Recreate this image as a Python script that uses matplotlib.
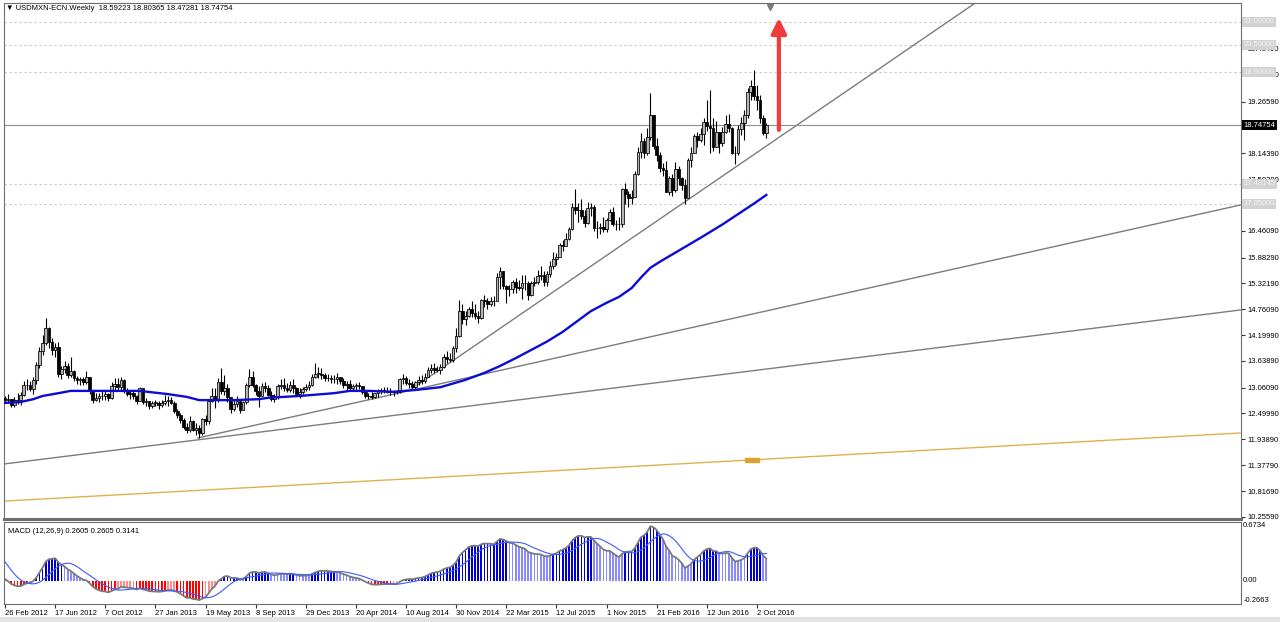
import numpy as np
import pandas as pd
import matplotlib
matplotlib.use('Agg')
import matplotlib.pyplot as plt
from matplotlib.transforms import blended_transform_factory
from matplotlib.patches import Rectangle

plt.rcParams['font.family'] = ['Liberation Sans', 'DejaVu Sans']

# weekly closes before the first visible bar (warm-up for the MACD only)
pre_closes = [11.63, 11.64, 11.83, 11.84, 11.83, 11.70, 11.57, 11.73, 11.61, 11.76,
              12.10, 12.30, 12.26, 12.45, 12.48, 12.65, 12.55, 13.55, 13.89, 13.55,
              13.28, 13.46, 13.30, 13.63, 13.60, 13.85, 14.10, 13.60, 13.68, 13.88,
              13.95, 13.95, 13.46, 13.70, 13.33, 13.05, 12.80, 12.85, 12.88, 12.83]

# visible weekly bars, 26 Feb 2012 .. 23 Oct 2016
closes = [12.79, 12.81, 12.69, 12.79, 12.80, 12.91, 13.12, 13.11, 13.03, 13.22,
          13.55, 13.85, 14.03, 14.35, 14.05, 13.88, 13.95, 13.36, 13.46, 13.53,
          13.34, 13.43, 13.27, 13.22, 13.24, 13.18, 13.29, 12.98, 12.80, 12.84,
          12.88, 12.89, 12.93, 12.83, 13.10, 13.15, 13.07, 13.23, 13.00, 12.93,
          12.95, 12.87, 12.78, 13.05, 12.75, 12.76, 12.67, 12.73, 12.73, 12.69,
          12.73, 12.77, 12.80, 12.73, 12.56, 12.46, 12.36, 12.21, 12.15, 12.33,
          12.15, 12.19, 12.08, 12.38, 12.33, 12.78, 12.89, 12.80, 13.18, 12.99,
          13.05, 12.85, 12.59, 12.71, 12.76, 12.58, 12.74, 13.12, 13.30, 13.12,
          12.99, 12.87, 13.10, 13.06, 12.91, 12.82, 12.86, 13.09, 13.11, 13.05,
          13.02, 13.11, 13.05, 12.92, 12.97, 13.03, 13.08, 13.11, 13.29, 13.36,
          13.36, 13.34, 13.27, 13.27, 13.24, 13.25, 13.29, 13.20, 13.12, 13.15,
          13.06, 13.10, 13.12, 13.09, 12.96, 12.89, 12.87, 12.85, 12.94, 12.98,
          13.00, 12.99, 12.96, 12.98, 12.96, 12.96, 13.25, 13.26, 13.16, 13.15,
          13.08, 13.19, 13.23, 13.20, 13.30, 13.44, 13.49, 13.45, 13.44, 13.51,
          13.73, 13.69, 13.67, 13.91, 14.17, 14.72, 14.55, 14.62, 14.76, 14.67,
          14.62, 14.58, 14.97, 14.93, 14.87, 14.95, 14.94, 15.45, 15.59, 15.26,
          15.19, 15.19, 15.36, 15.24, 15.23, 15.34, 15.33, 15.08, 15.32, 15.36,
          15.48, 15.50, 15.35, 15.52, 15.69, 15.85, 15.89, 16.15, 16.13, 16.28,
          16.50, 16.97, 16.91, 16.92, 16.78, 16.63, 16.96, 16.97, 16.52, 16.53,
          16.54, 16.50, 16.69, 16.88, 16.61, 16.60, 16.62, 17.37, 17.25, 17.18,
          17.19, 17.70, 18.17, 18.42, 18.14, 18.49, 18.98, 18.30, 18.10, 17.83,
          17.78, 17.31, 17.60, 17.34, 17.80, 17.61, 17.45, 17.17, 17.99, 18.16,
          18.51, 18.43, 18.56, 18.83, 18.74, 18.70, 18.28, 18.60, 18.37, 18.60,
          18.77, 18.70, 18.15, 18.15, 18.68, 18.80, 18.98, 19.47, 19.60, 19.39,
          19.30, 18.90, 18.59223, 18.74754]

highs = [12.87, 12.92, 12.82, 12.86, 12.95, 12.97, 13.20, 13.24, 13.21, 13.30,
         13.62, 13.95, 14.20, 14.58, 14.38, 14.13, 14.03, 14.06, 13.52, 13.64,
         13.60, 13.72, 13.45, 13.32, 13.30, 13.30, 13.42, 13.30, 13.00, 12.95,
         12.94, 12.98, 12.98, 12.95, 13.18, 13.28, 13.28, 13.30, 13.25, 13.05,
         13.00, 13.00, 12.90, 13.08, 13.02, 12.84, 12.78, 12.76, 12.80, 12.77,
         12.79, 12.90, 12.89, 12.85, 12.76, 12.60, 12.50, 12.40, 12.30, 12.45,
         12.36, 12.30, 12.25, 12.40, 12.47, 12.80, 13.05, 13.06, 13.28, 13.49,
         13.33, 13.15, 12.85, 12.79, 12.89, 12.77, 12.77, 13.16, 13.46, 13.42,
         13.14, 13.09, 13.17, 13.19, 13.12, 12.98, 12.93, 13.13, 13.25, 13.26,
         13.16, 13.20, 13.24, 13.07, 13.05, 13.07, 13.14, 13.21, 13.36, 13.60,
         13.50, 13.49, 13.37, 13.35, 13.33, 13.34, 13.38, 13.30, 13.28, 13.20,
         13.22, 13.15, 13.17, 13.18, 13.10, 13.00, 12.95, 12.96, 12.95, 13.04,
         13.06, 13.07, 13.08, 13.05, 13.02, 13.02, 13.28, 13.36, 13.32, 13.24,
         13.20, 13.20, 13.32, 13.33, 13.37, 13.50, 13.57, 13.59, 13.52, 13.57,
         13.79, 13.86, 13.82, 13.96, 14.36, 14.96, 14.88, 14.73, 14.80, 14.93,
         14.88, 14.72, 14.98, 15.06, 15.00, 15.02, 15.05, 15.55, 15.68, 15.60,
         15.28, 15.29, 15.40, 15.44, 15.39, 15.50, 15.50, 15.38, 15.38, 15.46,
         15.62, 15.69, 15.60, 15.58, 15.80, 16.00, 15.97, 16.19, 16.26, 16.41,
         16.55, 17.07, 17.37, 17.06, 17.15, 16.91, 17.08, 17.07, 17.02, 16.67,
         16.64, 16.76, 16.73, 16.93, 16.98, 16.70, 16.76, 17.40, 17.50, 17.32,
         17.35, 17.75, 18.27, 18.58, 18.47, 18.70, 19.44, 18.98, 18.47, 18.18,
         17.93, 17.98, 17.64, 17.70, 17.95, 17.87, 17.63, 17.58, 18.05, 18.27,
         18.57, 18.60, 18.69, 18.90, 19.30, 19.52, 18.90, 18.85, 18.55, 18.72,
         18.97, 19.00, 18.72, 18.30, 18.76, 18.93, 19.08, 19.56, 19.74, 19.94,
         19.62, 19.40, 18.98, 18.80365]

lows = [12.72, 12.72, 12.63, 12.63, 12.71, 12.69, 12.88, 13.02, 12.98, 12.93,
        13.14, 13.48, 13.77, 13.98, 13.93, 13.77, 13.73, 13.30, 13.25, 13.38,
        13.26, 13.30, 13.20, 13.14, 13.12, 13.11, 13.13, 12.92, 12.73, 12.76,
        12.74, 12.80, 12.80, 12.76, 12.82, 13.00, 13.02, 13.02, 12.95, 12.88,
        12.82, 12.82, 12.70, 12.76, 12.71, 12.66, 12.59, 12.62, 12.66, 12.60,
        12.65, 12.69, 12.67, 12.71, 12.52, 12.41, 12.30, 12.17, 12.07, 12.10,
        12.12, 12.04, 11.97, 12.03, 12.26, 12.28, 12.75, 12.62, 12.75, 12.92,
        12.90, 12.74, 12.52, 12.56, 12.65, 12.50, 12.57, 12.70, 13.08, 13.07,
        12.91, 12.64, 12.92, 12.96, 12.87, 12.76, 12.75, 12.82, 13.04, 12.98,
        12.96, 12.96, 12.95, 12.88, 12.83, 12.93, 12.99, 13.00, 13.09, 13.27,
        13.28, 13.25, 13.21, 13.21, 13.17, 13.17, 13.15, 13.14, 13.05, 12.98,
        12.99, 13.00, 13.02, 13.03, 12.93, 12.84, 12.81, 12.82, 12.83, 12.85,
        12.93, 12.94, 12.94, 12.90, 12.89, 12.92, 12.94, 13.15, 13.12, 13.06,
        13.05, 13.03, 13.12, 13.15, 13.17, 13.29, 13.37, 13.38, 13.40, 13.35,
        13.49, 13.60, 13.62, 13.61, 13.84, 14.15, 14.45, 14.41, 14.59, 14.60,
        14.54, 14.47, 14.55, 14.82, 14.76, 14.83, 14.84, 14.94, 15.19, 15.21,
        14.90, 15.05, 15.12, 15.11, 15.18, 14.98, 15.18, 14.97, 15.05, 15.27,
        15.30, 15.39, 15.27, 15.26, 15.45, 15.63, 15.72, 15.92, 16.03, 16.16,
        16.26, 16.48, 16.82, 16.65, 16.71, 16.54, 16.61, 16.78, 16.46, 16.31,
        16.40, 16.43, 16.43, 16.67, 16.57, 16.48, 16.49, 16.55, 17.05, 16.98,
        17.05, 17.31, 17.67, 18.04, 18.05, 18.10, 18.43, 18.23, 17.98, 17.74,
        17.64, 17.30, 17.24, 17.22, 17.30, 17.46, 17.35, 17.05, 17.18, 17.85,
        18.15, 18.28, 18.38, 18.32, 18.62, 18.14, 18.20, 18.27, 18.14, 18.31,
        18.58, 18.60, 18.12, 17.92, 18.10, 18.53, 18.44, 18.90, 19.30, 19.30,
        19.09, 18.80, 18.55, 18.47281]

# blue moving average (bar index, price)
ma_idx = [0, 5, 9, 12, 17, 21, 27, 34, 43, 52, 58, 62, 68, 73, 81, 84, 94, 105, 110,
          116, 124, 131, 139, 143, 147, 153, 158, 163, 168, 173, 178, 183, 187, 192,
          196, 200, 203, 206, 209, 215, 222, 229, 235, 239, 243]
ma_val = [12.73, 12.75, 12.81, 12.88, 12.94, 12.99, 12.99, 12.99, 12.99, 12.92, 12.86,
          12.79, 12.79, 12.79, 12.81, 12.84, 12.88, 12.94, 12.99, 12.99, 12.97, 13.01,
          13.07, 13.15, 13.23, 13.38, 13.53, 13.70, 13.88, 14.06, 14.27, 14.52, 14.72,
          14.90, 15.03, 15.22, 15.45, 15.66, 15.79, 16.03, 16.31, 16.60, 16.87, 17.05,
          17.24]

# drawn trend lines: (bar, price) -> (bar, price)
trend_x0 = [129.3, 61.6, -0.3, -0.3]
trend_y0 = [13.01, 11.97, 11.405, 10.60]
trend_x1 = [315.0, 394.2, 394.2, 394.2]
trend_y1 = [21.65, 17.02, 14.744, 12.077]
trend_col = ['#7c7c7c', '#7c7c7c', '#7c7c7c', '#e0b050']

level_vals = [21.0, 20.5, 19.9, 17.48145, 17.05]
level_text = ['21.00000', '20.50000', '19.90000', '17.48145', '17.05000']
last_price = 18.74754

price_ticks = [20.9659, 20.4049, 19.8439, 19.2659, 18.7049, 18.1439, 17.5829, 17.0219,
               16.4609, 15.8829, 15.3219, 14.7609, 14.1999, 13.6389, 13.0609, 12.4999,
               11.9389, 11.3779, 10.8169, 10.2559]
hidden_ticks = [20.9659, 18.7049, 17.0219]

date_idx = [0, 16, 32, 48, 64, 80, 96, 112, 128, 144, 160, 176, 192, 208, 224, 240]
date_labels = ['26 Feb 2012', '17 Jun 2012', '7 Oct 2012', '27 Jan 2013', '19 May 2013',
               '8 Sep 2013', '29 Dec 2013', '20 Apr 2014', '10 Aug 2014', '30 Nov 2014',
               '22 Mar 2015', '12 Jul 2015', '1 Nov 2015', '21 Feb 2016', '12 Jun 2016',
               '2 Oct 2016']

arrow_bar = 247
arrow_from = 18.65
arrow_to = 21.08
shift_bar = 244.2
handle_bar = [236.2, 240.7]
handle_price = [11.448, 11.535]

macd_max = 0.6734
macd_min = -0.2663

closes = np.array(closes)
highs = np.array(highs)
lows = np.array(lows)
opens = np.r_[pre_closes[-1], closes[:-1]]
idx = np.arange(len(closes))

FS = 5.5
W, H = 1280, 622
L, R = 4, 1241
fig = plt.figure(figsize=(12.8, 6.22), dpi=100)
ax = fig.add_axes([L / W, 1 - 519 / H, (R - L) / W, 516 / H])
axm = fig.add_axes([L / W, 1 - 604 / H, (R - L) / W, 82 / H])

xlim = (-0.32, 394.5)
ax.set_xlim(*xlim)
ax.set_ylim(10.2116, 21.4025)

# candles
up = closes >= opens
body_lo = np.minimum(opens, closes)
body_h = np.maximum(np.abs(closes - opens), 0.01)
ax.vlines(idx, lows, highs, color='black', lw=0.8, zorder=3)
ax.bar(idx[up], body_h[up], bottom=body_lo[up], width=0.85, color='#b4b4b4',
       edgecolor='black', lw=0.55, zorder=4)
ax.bar(idx[~up], body_h[~up], bottom=body_lo[~up], width=0.85, color='black',
       edgecolor='black', lw=0.55, zorder=4)

ax.plot(ma_idx, ma_val, color='#0c0cd6', lw=1.7, zorder=5)

for x0, y0, x1, y1, c in zip(trend_x0, trend_y0, trend_x1, trend_y1, trend_col):
    ax.plot([x0, x1], [y0, y1], color=c, lw=1.0, zorder=2)

for v in level_vals:
    ax.axhline(v, color='#c8c8c8', lw=0.8, ls=(0, (2, 2.5)), zorder=1)
ax.axhline(last_price, color='#8e8e8e', lw=0.8, zorder=2)

# red arrow, shift marker, line handle
ax.annotate('', xy=(arrow_bar, arrow_to), xytext=(arrow_bar, arrow_from),
            arrowprops=dict(arrowstyle='-|>,head_length=0.9,head_width=0.45',
                            lw=3, color='#f03c3c', shrinkA=0, shrinkB=0), zorder=6)
tr_top = blended_transform_factory(ax.transData, ax.transAxes)
ax.plot([shift_bar], [0.993], marker='v', ms=5, color='#7a7a7a', transform=tr_top,
        clip_on=False, zorder=8)
ax.add_patch(Rectangle((handle_bar[0], handle_price[0]), handle_bar[1] - handle_bar[0],
                       handle_price[1] - handle_price[0], color='#d9a530', zorder=6))

# right price scale
ax.set_xticks([])
ax.yaxis.tick_right()
ax.set_yticks(price_ticks)
ax.set_yticklabels(['' if t in hidden_ticks else '%.5f' % t for t in price_ticks])
ax.tick_params(axis='y', length=3, width=0.8, color='#333333', labelsize=FS, pad=1.5)
tr = blended_transform_factory(ax.transAxes, ax.transData)
for v, s in zip(level_vals, level_text):
    ax.text(1.0018, v, s, transform=tr, fontsize=FS, color='#f4f4f4', va='center',
            ha='left', clip_on=False, zorder=10,
            bbox=dict(boxstyle='square,pad=0.2', fc='#d2d2d2', ec='none'))
ax.text(1.0018, last_price, '%.5f' % last_price, transform=tr, fontsize=FS,
        color='white', va='center', ha='left', clip_on=False, zorder=11,
        bbox=dict(boxstyle='square,pad=0.2', fc='black', ec='none'))

for s in ax.spines.values():
    s.set_color('#6e6e6e')
    s.set_linewidth(0.8)
ax.spines['bottom'].set_linewidth(2.2)

fig.text(6 / W, 1 - 9 / H, '\u25bc USDMXN-ECN.Weekly  18.59223 18.80365 18.47281 18.74754',
         fontsize=FS, va='center', ha='left')

# MACD(12,26,9) from closes
all_close = pd.Series(np.r_[pre_closes, closes])
main = all_close.ewm(span=12, adjust=False).mean() - all_close.ewm(span=26, adjust=False).mean()
signal = main.rolling(9).mean()
main = main.values[-len(closes):]
signal = signal.values[-len(closes):]

cols = []
for m, s in zip(main, signal):
    if m >= 0:
        cols.append('#0000d2' if m >= s else '#8a8aff')
    else:
        cols.append('#ff0000' if m <= s else '#ff8c8c')
axm.bar(idx, main, width=0.55, color=cols, zorder=2)
axm.plot(idx, main, color='#7a7a7a', lw=1.3, zorder=3)
axm.plot(idx, signal, color='#3a5cff', lw=0.8, zorder=4)
axm.set_xlim(*xlim)
axm.set_ylim(macd_min, macd_max)
axm.set_yticks([])
axm.set_xticks(date_idx)
axm.set_xticklabels(date_labels, fontsize=FS, ha='left')
axm.tick_params(axis='x', length=3, width=0.8, color='#333333', pad=1.5)
for s in axm.spines.values():
    s.set_color('#6e6e6e')
    s.set_linewidth(0.8)

trm = blended_transform_factory(axm.transAxes, axm.transData)
axm.text(1.0018, macd_max, '%.4f' % macd_max, transform=trm, fontsize=FS, va='top', ha='left')
axm.text(1.0018, 0.0, '0.00', transform=trm, fontsize=FS, va='center', ha='left')
axm.text(1.0018, macd_min, '%.4f' % macd_min, transform=trm, fontsize=FS, va='bottom', ha='left')
axm.text(0.003, 0.93, 'MACD (12,26,9) 0.2605 0.2605 0.3141', transform=axm.transAxes,
         fontsize=FS, va='top', ha='left')

fig.add_artist(Rectangle((0, 0), 1, 5 / H, transform=fig.transFigure, fc='#e4e4e4', ec='none'))

fig.savefig('out.png', dpi=100)
